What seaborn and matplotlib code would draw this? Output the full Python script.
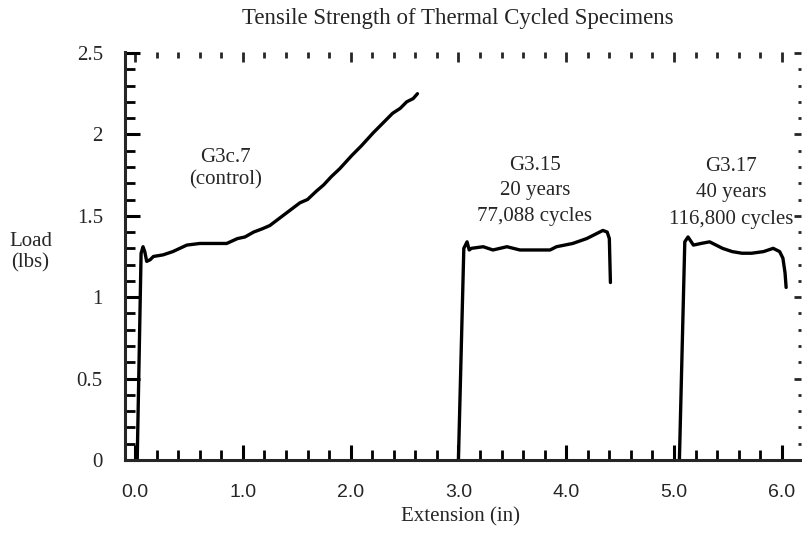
import numpy as np
import pandas as pd
import matplotlib
matplotlib.use('Agg')
import matplotlib.pyplot as plt
import seaborn as sns

# load / extension readings taken off the scanned chart
ctrl_x = [0.02, 0.056, 0.074, 0.09, 0.108, 0.14, 0.17, 0.26, 0.35, 0.48, 0.60, 0.72, 0.85,
          0.95, 1.02, 1.10, 1.18, 1.25, 1.33, 1.41, 1.47, 1.53, 1.60, 1.68, 1.75, 1.82,
          1.90, 2.01, 2.10, 2.21, 2.30, 2.39, 2.46, 2.52, 2.58, 2.62]
ctrl_y = [0.0, 1.27, 1.31, 1.28, 1.22, 1.23, 1.25, 1.26, 1.28, 1.32, 1.33, 1.33, 1.33,
          1.36, 1.37, 1.40, 1.42, 1.44, 1.48, 1.52, 1.55, 1.58, 1.60, 1.65, 1.69, 1.74,
          1.79, 1.87, 1.93, 2.01, 2.07, 2.13, 2.16, 2.20, 2.22, 2.25]

g315_x = [3.00, 3.05, 3.08, 3.10, 3.12, 3.23, 3.32, 3.45, 3.57, 3.73, 3.85, 3.91, 4.06,
          4.19, 4.28, 4.34, 4.38, 4.40, 4.41]
g315_y = [0.0, 1.30, 1.34, 1.29, 1.30, 1.31, 1.29, 1.31, 1.29, 1.29, 1.29, 1.31, 1.33,
          1.36, 1.39, 1.41, 1.40, 1.36, 1.09]

g317_x = [5.05, 5.10, 5.13, 5.18, 5.25, 5.33, 5.45, 5.54, 5.63, 5.72, 5.83, 5.92, 5.98,
          6.01, 6.03, 6.04]
g317_y = [0.0, 1.34, 1.37, 1.32, 1.33, 1.34, 1.30, 1.28, 1.27, 1.27, 1.28, 1.30, 1.28,
          1.24, 1.15, 1.06]

x_ticks = [0, 1, 2, 3, 4, 5, 6]
x_tick_labels = ['0.0', '1.0', '2.0', '3.0', '4.0', '5.0', '6.0']
y_ticks = [0, 0.5, 1, 1.5, 2, 2.5]
y_tick_labels = ['0', '0.5', '1', '1.5', '2', '2.5']

ctrl_label = ['G3c.7', '(control)']
g315_label = ['G3.15', '20 years', '77,088 cycles']
g317_label = ['G3.17', '40 years', '116,800 cycles']

frames = []
for name, xs, ys in [('ctrl', ctrl_x, ctrl_y), ('g315', g315_x, g315_y), ('g317', g317_x, g317_y)]:
    frames.append(pd.DataFrame({'ext': xs, 'load': ys, 'spec': name}))
df = pd.concat(frames, ignore_index=True)

sns.set_theme(style='ticks')
plt.rcParams['font.family'] = ['Liberation Serif', 'DejaVu Serif']
plt.rcParams['axes.linewidth'] = 2.2

fig = plt.figure(figsize=(8.03, 5.33), dpi=100)
ax = fig.add_axes([0.1557, 0.137, 0.8418, 0.7654])

for spec in ['ctrl', 'g315', 'g317']:
    sns.lineplot(data=df[df['spec'] == spec], x='ext', y='load', sort=False,
                 color='black', linewidth=2.4, ax=ax, legend=False)

ax.set_xlim(-0.093, 6.178)
ax.set_ylim(0, 2.506)
ax.spines['top'].set_visible(False)
ax.spines['right'].set_visible(False)

ax.set_xticks(x_ticks)
ax.set_xticklabels(x_tick_labels, family=['Liberation Sans', 'DejaVu Sans'], fontsize=14)
ax.set_xticks(np.arange(0, 6.01, 0.2), minor=True)
ax.set_yticks(y_ticks)
ax.set_yticklabels(y_tick_labels, fontsize=15)
ax.set_yticks(np.arange(0, 2.51, 0.1), minor=True)
ax.tick_params(axis='both', which='major', direction='in', length=11, width=2.2, color='black')
ax.tick_params(axis='both', which='minor', direction='in', length=7, width=2.0, color='black')
ax.tick_params(axis='x', which='major', pad=17)
ax.tick_params(axis='y', which='major', pad=16)
ax.set_xlabel('')
ax.set_ylabel('')

# ticks along top and right edges, shorter, no spine
top = ax.secondary_xaxis('top')
top.set_xticks(x_ticks)
top.set_xticklabels([])
top.set_xticks(np.arange(0, 6.01, 0.2), minor=True)
top.tick_params(which='major', direction='in', length=7, width=2.0)
top.tick_params(which='minor', direction='in', length=4, width=2.0)
top.spines['top'].set_visible(False)

right = ax.secondary_yaxis('right')
right.set_yticks(y_ticks)
right.set_yticklabels([])
right.set_yticks(np.arange(0, 2.51, 0.1), minor=True)
right.tick_params(which='major', direction='in', length=5, width=2.0)
right.tick_params(which='minor', direction='in', length=2.5, width=2.0)
right.spines['right'].set_visible(False)

for i, line in enumerate(ctrl_label):
    ax.text(0.84, 1.86 - i * 0.142, line, ha='center', va='center', fontsize=15)
for i, line in enumerate(g315_label):
    ax.text(3.71, 1.81 - i * 0.157, line, ha='center', va='center', fontsize=15)
for i, line in enumerate(g317_label):
    ax.text(5.53, 1.80 - i * 0.160, line, ha='center', va='center', fontsize=15)

fig.text(0.570, 0.966, 'Tensile Strength of Thermal Cycled Specimens', ha='center', va='center', fontsize=16.5)
fig.text(0.573, 0.030, 'Extension (in)', ha='center', va='center', fontsize=15)
fig.text(0.039, 0.546, 'Load', ha='center', va='center', fontsize=15)
fig.text(0.038, 0.506, '(lbs)', ha='center', va='center', fontsize=15)

fig.savefig('out.png', dpi=100)
